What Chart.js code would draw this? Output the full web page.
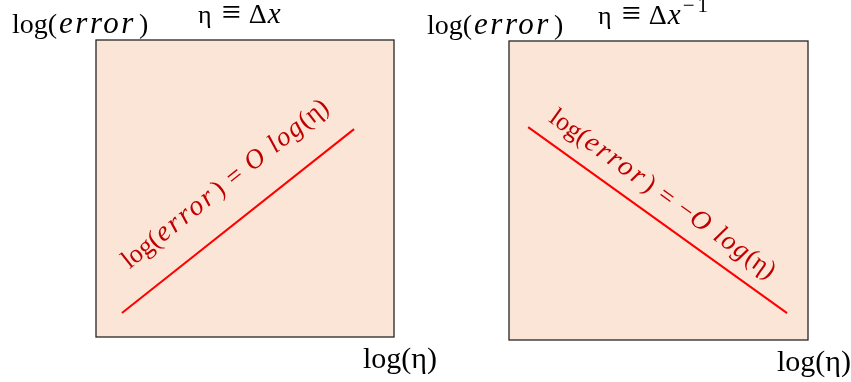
<!DOCTYPE html>
<html>
<head>
<meta charset="utf-8">
<title>log(error) vs log(η)</title>
<script src="https://cdn.jsdelivr.net/npm/chart.js@4.4.1/dist/chart.umd.min.js"></script>
<style>
  body { margin: 0; background: #fff; }
  #wrap { position: relative; width: 851px; height: 382px; overflow: hidden; }
  canvas { position: absolute; top: 0; left: 0; }
</style>
</head>
<body>
<div id="wrap">
  <canvas id="leftChart" width="851" height="382"></canvas>
  <canvas id="rightChart" width="851" height="382"></canvas>
</div>
<script>
// line endpoints, in axis units (both axes run 0..10)
var upX = [0.87, 8.66];
var upY = [0.81, 7.0];
var downX = [0.64, 9.30];
var downY = [7.12, 0.90];

// where the slanted formula starts (baseline), axis units
var upLabelAt = [1.12, 2.28];
var downLabelAt = [1.30, 7.33];

var serif = '"Liberation Serif", "DejaVu Serif", serif';

function toPoints(xs, ys){
    var pts = [];
    for(var i=0; i<xs.length; i++){
        pts.push({x: xs[i], y: ys[i]});
    }
    return pts;
}

// draws a run of text pieces that each have their own font
function drawRich(ctx, parts, x, y){
    var cx = x;
    for(var i=0; i<parts.length; i++){
        var p = parts[i];
        ctx.font = p.font;
        ctx.letterSpacing = p.spacing || '0px';
        ctx.fillText(p.text, cx, y + (p.rise || 0));
        cx += ctx.measureText(p.text).width + (p.gap || 0);
    }
    ctx.letterSpacing = '0px';
    return cx - x;
}

function richWidth(ctx, parts){
    var w = 0;
    for(var i=0; i<parts.length; i++){
        ctx.font = parts[i].font;
        ctx.letterSpacing = parts[i].spacing || '0px';
        w += ctx.measureText(parts[i].text).width + (parts[i].gap || 0);
    }
    ctx.letterSpacing = '0px';
    return w;
}

function up(size){ return size + 'px ' + serif; }
function it(size){ return 'italic ' + size + 'px ' + serif; }

function logError(size){
    return [
        {text: 'log(', font: up(size), gap: 2},
        {text: 'error', font: it(size + 3), spacing: '2.5px', gap: 3},
        {text: ')', font: up(size)}
    ];
}

function etaDef(size){
    return [
        {text: 'η', font: up(size), gap: 10},
        {text: '≡', font: up(size + 8), gap: 8},
        {text: 'Δ', font: up(size + 2), gap: 1},
        {text: 'x', font: it(size + 3)}
    ];
}

function formula(size, minus){
    return [
        {text: 'log(', font: up(size), gap: 1},
        {text: 'error', font: it(size + 2), spacing: '2.5px', gap: 2},
        {text: ')', font: up(size), gap: 9},
        {text: '=', font: up(size), gap: 9},
        {text: minus ? '−' : '', font: up(size), gap: minus ? 1 : 0},
        {text: 'O', font: it(size + 1), gap: 10},
        {text: 'log', font: it(size + 1), spacing: '1.5px'},
        {text: '(η)', font: up(size)}
    ];
}

var panelPlugin = {
    id: 'panel',
    beforeDraw: function(chart){
        var ctx = chart.ctx;
        var a = chart.chartArea;
        ctx.save();
        ctx.fillStyle = '#fbe5d6';
        ctx.fillRect(a.left, a.top, a.right - a.left, a.bottom - a.top);
        ctx.restore();
    },
    afterDraw: function(chart, args, opts){
        var ctx = chart.ctx;
        var a = chart.chartArea;
        ctx.save();
        ctx.strokeStyle = '#262626';
        ctx.lineWidth = 1.3;
        ctx.strokeRect(a.left, a.top, a.right - a.left, a.bottom - a.top);

        ctx.fillStyle = '#000';
        ctx.textBaseline = 'alphabetic';
        ctx.textAlign = 'left';

        // y axis name, top left
        drawRich(ctx, logError(28), a.left + opts.yNameDx, a.top - 7);

        // definition of eta above the box
        drawRich(ctx, opts.title, a.left + opts.titleDx, a.top - 17);

        // x axis name, bottom right
        var xName = [{text: 'log(η)', font: up(30)}];
        var w = richWidth(ctx, xName);
        drawRich(ctx, xName, a.right + 43 - w, a.bottom + 31);

        // slanted formula along the line
        var ds = chart.data.datasets[0].data;
        var sx = chart.scales.x, sy = chart.scales.y;
        var x0 = sx.getPixelForValue(ds[0].x), y0 = sy.getPixelForValue(ds[0].y);
        var x1 = sx.getPixelForValue(ds[1].x), y1 = sy.getPixelForValue(ds[1].y);
        var ang = Math.atan2(y1 - y0, x1 - x0);
        var lx = sx.getPixelForValue(opts.labelAt[0]);
        var ly = sy.getPixelForValue(opts.labelAt[1]);
        ctx.translate(lx, ly);
        ctx.rotate(ang);
        ctx.fillStyle = '#c00000';
        drawRich(ctx, opts.formula, 0, 0);
        ctx.restore();
    }
};

function makePanel(id, xs, ys, pad, extra){
    var ctx = document.getElementById(id).getContext('2d');
    return new Chart(ctx, {
        type: 'line',
        data: {
            datasets: [{
                data: toPoints(xs, ys),
                borderColor: '#ff0000',
                borderWidth: 2,
                pointRadius: 0,
                fill: false
            }]
        },
        options: {
            responsive: false,
            animation: false,
            devicePixelRatio: 1,
            layout: { padding: pad },
            scales: {
                x: { type: 'linear', min: 0, max: 10, display: false },
                y: { type: 'linear', min: 0, max: 10, display: false }
            },
            plugins: {
                legend: { display: false },
                tooltip: { enabled: false },
                panel: extra
            }
        },
        plugins: [panelPlugin]
    });
}

makePanel('leftChart', upX, upY, {left: 96, top: 40, right: 457, bottom: 45}, {
    yNameDx: -84,
    titleDx: 102,
    labelAt: upLabelAt,
    title: etaDef(26),
    formula: formula(26, false)
});

var downTitle = etaDef(26);
downTitle[3].gap = 2;
downTitle.push({text: '−1', font: up(21), rise: -12, spacing: '3px'});

makePanel('rightChart', downX, downY, {left: 509, top: 41, right: 43, bottom: 42}, {
    yNameDx: -82,
    titleDx: 89,
    labelAt: downLabelAt,
    title: downTitle,
    formula: formula(26, true)
});
</script>
</body>
</html>
